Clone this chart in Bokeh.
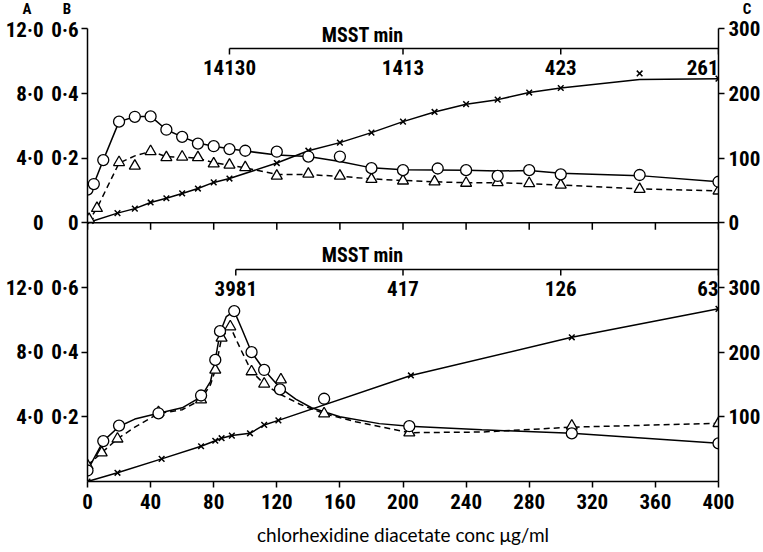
from bokeh.plotting import figure
from bokeh.models import Range1d, FixedTicker, Span, Label, LinearAxis, ColumnDataSource, Div
from bokeh.layouts import column
from bokeh.embed import file_html
from bokeh.resources import INLINE
from bokeh.core.properties import value

# ---------------- data ----------------
conc_ticks = [0, 40, 80, 120, 160, 200, 240, 280, 320, 360, 400]

header_labels = ["A", "B", "C"]
a_labels = ["0", "4·0", "8·0", "12·0"]
b_labels = ["0", "0·2", "0·4", "0·6"]
c_labels = ["0", "100", "200", "300"]

# upper panel: circles (A scale), triangles (B scale), crosses (C scale)
top_circle_x = [0, 4, 10, 20, 30, 40, 50, 60, 70, 80, 90, 100, 120, 140, 160, 180, 200, 222, 240, 260, 280, 300, 350, 400]
top_circle_a = [2.06, 2.40, 3.88, 6.26, 6.56, 6.58, 5.76, 5.32, 4.90, 4.74, 4.56, 4.46, 4.40, 4.10, 4.10, 3.38, 3.26, 3.36, 3.26, 2.90, 3.26, 3.00, 2.96, 2.54]
top_circle_curve_x = [0, 4, 10, 20, 30, 40, 50, 60, 70, 80, 90, 100, 120, 140, 160, 180, 200, 240, 260, 280, 300, 350, 400]
top_circle_curve_a = [2.06, 2.40, 3.88, 6.26, 6.56, 6.60, 5.76, 5.32, 4.94, 4.74, 4.58, 4.44, 4.20, 4.10, 3.80, 3.40, 3.28, 3.26, 3.20, 3.24, 3.06, 2.92, 2.54]

top_tri_x = [1, 6, 20, 30, 40, 50, 60, 70, 80, 90, 100, 120, 140, 160, 180, 200, 220, 240, 260, 280, 300, 350, 400]
top_tri_b = [0.011, 0.045, 0.187, 0.176, 0.221, 0.202, 0.204, 0.202, 0.183, 0.179, 0.171, 0.145, 0.151, 0.145, 0.135, 0.130, 0.127, 0.123, 0.125, 0.122, 0.117, 0.104, 0.099]
top_tri_curve_x = [0, 6, 20, 30, 40, 50, 60, 70, 80, 90, 100, 120, 140, 160, 180, 200, 220, 240, 260, 280, 300, 350, 400]
top_tri_curve_b = [0.0, 0.045, 0.185, 0.207, 0.221, 0.205, 0.203, 0.200, 0.186, 0.178, 0.170, 0.150, 0.149, 0.144, 0.136, 0.131, 0.127, 0.124, 0.124, 0.121, 0.117, 0.105, 0.099]

top_cross_x = [2, 19, 30, 40, 50, 60, 70, 80, 90, 120, 140, 160, 180, 200, 220, 240, 260, 280, 300, 350, 400]
top_cross_c = [3, 15, 22, 31.5, 38, 45.5, 53, 62.5, 68.5, 92.5, 111.5, 124, 139.5, 156.5, 171.5, 183.5, 190.5, 201.5, 208.5, 231, 223]
top_cross_curve_x = [0, 19, 30, 40, 50, 60, 70, 80, 90, 120, 140, 160, 180, 200, 220, 240, 260, 280, 300, 350, 400]
top_cross_curve_c = [0, 15, 22, 31.5, 38, 45.5, 53, 62.5, 68.5, 92.5, 111.5, 124, 139.5, 156.5, 171.5, 183.5, 190.5, 201.5, 208.5, 221.5, 223]

top_msst_x = [90, 200, 300, 400]
top_msst_labels = ["14130", "1413", "423", "261"]

# lower panel
bot_circle_x = [0, 10, 20, 45, 72, 81, 84, 93, 104, 112, 122, 150, 204, 307, 400]
bot_circle_a = [0.68, 2.50, 3.46, 4.22, 5.32, 7.52, 9.30, 10.54, 8.00, 6.90, 5.70, 5.12, 3.42, 2.98, 2.36]
bot_circle_curve_x = [0, 10, 20, 30, 45, 60, 72, 78, 81, 84, 88, 93, 98, 104, 112, 122, 132, 142, 160, 185, 204, 250, 307, 400]
bot_circle_curve_a = [0.68, 2.50, 3.40, 3.86, 4.22, 4.56, 5.24, 6.20, 7.52, 9.20, 10.20, 10.54, 9.40, 8.00, 6.90, 5.80, 5.10, 4.56, 4.00, 3.58, 3.42, 3.20, 2.98, 2.36]

bot_tri_x = [0, 9, 19, 45, 72, 81, 85, 90.5, 104, 112, 122.6, 150, 204, 307, 400]
bot_tri_b = [0.050, 0.089, 0.132, 0.214, 0.253, 0.345, 0.444, 0.479, 0.340, 0.302, 0.315, 0.210, 0.151, 0.172, 0.180]
bot_tri_curve_x = [0, 9, 19, 30, 45, 60, 72, 78, 81, 85, 90.5, 97, 104, 112, 122, 135, 150, 170, 204, 250, 307, 400]
bot_tri_curve_b = [0.050, 0.089, 0.132, 0.168, 0.210, 0.222, 0.253, 0.300, 0.345, 0.444, 0.479, 0.410, 0.340, 0.302, 0.270, 0.238, 0.210, 0.185, 0.151, 0.153, 0.168, 0.180]

bot_cross_x = [0, 19, 47, 72, 81, 85, 91.5, 103, 112, 121, 205, 307, 400]
bot_cross_c = [0, 13.5, 35, 54.5, 63, 67, 71, 74.5, 87.5, 94.5, 164, 223, 267]

bot_msst_x = [94, 200, 300, 400]
bot_msst_labels = ["3981", "417", "126", "63"]

# ---------------- layout helpers ----------------
UNIT_A, UNIT_B, UNIT_C = 4.0, 0.2, 100.0   # one plot unit per major tick step
TOP = 4.0                                  # upper panel baseline (plot units)
PPU = 194 / 3.0                            # pixels per plot unit
X0, Y0, XW = 87, 481, 635
HDR_H = 17


def ux(px):
    return (px - X0) * 400.0 / XW


def uy(py):
    return (Y0 - py) / PPU


def conv(vals, unit, base):
    return [v / unit + base for v in vals]


NUM_FONT = "'Roboto Condensed', 'DejaVu Sans Condensed', 'Liberation Sans Narrow', Roboto, sans-serif"
TXT_FONT = "Lato"

# header strip with the axis letters (HTML text)
spans = "".join(
    '<span style="position:absolute;left:%dpx;top:2px;width:20px;height:15px;text-align:center;">%s</span>' % (px - 10, t)
    for t, px in zip(header_labels, [27, 67, 747]))
hdr = Div(text='<div style="position:relative;width:763px;height:%dpx;font-family:%s;'
               'font-weight:bold;font-size:15px;line-height:15px;color:black;">%s</div>'
               % (HDR_H, NUM_FONT, spans),
          width=763, height=HDR_H, margin=0)

p = figure(width=763, height=552 - HDR_H, output_backend="svg", toolbar_location=None,
           x_range=Range1d(0, 400), y_range=Range1d(0, uy(20)),
           min_border_left=87, min_border_right=41, min_border_top=20 - HDR_H, min_border_bottom=71,
           margin=0)
p.outline_line_color = None
p.grid.visible = False
p.background_fill_color = "white"

tick_pos = [1, 2, 3, 4, 5, 6, 7]


def overrides(labels):
    d = {}
    for t in tick_pos:
        d[t] = labels[t] if t < TOP else labels[int(t - TOP)]
    return d


def style_axis(ax):
    ax.major_label_text_font = NUM_FONT
    ax.major_label_text_font_style = "bold"
    ax.major_label_text_font_size = "21px"
    ax.major_label_text_color = "black"
    ax.minor_tick_line_color = None
    ax.axis_line_width = 1.5
    ax.major_tick_line_width = 1.5
    ax.major_tick_out = 6
    ax.major_tick_in = 0


# B axis (inner left)
yb = p.yaxis[0]
yb.ticker = FixedTicker(ticks=tick_pos)
yb.major_label_overrides = overrides(b_labels)
yb.bounds = (0, TOP + 3)
style_axis(yb)
yb.major_label_standoff = 3

# A axis (outer left, labels only)
ya = LinearAxis(ticker=FixedTicker(ticks=tick_pos), major_label_overrides=overrides(a_labels))
style_axis(ya)
ya.axis_line_color = None
ya.major_tick_line_color = None
ya.major_tick_out = 0
ya.major_label_standoff = 5
p.add_layout(ya, "left")

# C axis (right)
yc = LinearAxis(ticker=FixedTicker(ticks=tick_pos), major_label_overrides=overrides(c_labels))
style_axis(yc)
yc.bounds = (0, TOP + 3)
yc.major_label_standoff = 4
p.add_layout(yc, "right")

# x axis
xa = p.xaxis[0]
xa.ticker = FixedTicker(ticks=conc_ticks)
style_axis(xa)
xa.major_label_standoff = 6
xa.axis_label = "chlorhexidine diacetate conc μg/ml"
xa.axis_label_text_font = TXT_FONT
xa.axis_label_text_font_style = "normal"
xa.axis_label_text_font_size = "19px"
xa.axis_label_text_color = "black"
xa.axis_label_standoff = 11

# upper panel baseline with ticks
p.add_layout(Span(location=TOP, dimension="width", line_color="black", line_width=1.5))
p.segment(x0=conc_ticks, y0=[TOP] * len(conc_ticks), x1=conc_ticks,
          y1=[TOP - 7 / PPU] * len(conc_ticks), line_color="black", line_width=1.5)


def msst(xs, labels, line_py, title_py):
    yl = uy(line_py)
    p.line(x=[xs[0], xs[-1]], y=[yl, yl], line_color="black", line_width=1.5)
    p.segment(x0=xs, y0=[yl] * len(xs), x1=xs, y1=[yl - 6 / PPU] * len(xs),
              line_color="black", line_width=1.5)
    aligns = ["center"] * (len(xs) - 1) + ["right"]
    src = ColumnDataSource(dict(x=xs, y=[uy(line_py + 11)] * len(xs), t=labels, a=aligns))
    p.text(x="x", y="y", text="t", text_align="a", text_baseline="top", source=src,
           text_font=value(NUM_FONT), text_font_style="bold", text_font_size="21px",
           text_color="black")
    p.add_layout(Label(x=ux(364), y=uy(title_py), text="MSST min", text_align="center",
                       text_baseline="middle", text_font=NUM_FONT, text_font_style="bold",
                       text_font_size="20px", text_color="black"))


msst(top_msst_x, top_msst_labels, 48, 34)
msst(bot_msst_x, bot_msst_labels, 269, 254)

LW = 1.5
DASH = "6 4"


def panel(base, cx, ca, ccx, cca, tx, tb, tcx, tcb, xx, xc, xcx, xcc):
    p.line(x=ccx, y=conv(cca, UNIT_A, base), line_color="black", line_width=LW)
    p.line(x=tcx, y=conv(tcb, UNIT_B, base), line_color="black", line_width=LW, line_dash=DASH)
    p.line(x=xcx, y=conv(xcc, UNIT_C, base), line_color="black", line_width=LW)
    p.scatter(x=xx, y=conv(xc, UNIT_C, base), marker="x", size=8, line_color="black", line_width=1.5)
    p.scatter(x=tx, y=conv(tb, UNIT_B, base), marker="triangle", size=11, fill_color="white",
              line_color="black", line_width=1.3)
    p.scatter(x=cx, y=conv(ca, UNIT_A, base), marker="circle", size=11, fill_color="white",
              line_color="black", line_width=1.3)


panel(TOP, top_circle_x, top_circle_a, top_circle_curve_x, top_circle_curve_a,
      top_tri_x, top_tri_b, top_tri_curve_x, top_tri_curve_b,
      top_cross_x, top_cross_c, top_cross_curve_x, top_cross_curve_c)
panel(0, bot_circle_x, bot_circle_a, bot_circle_curve_x, bot_circle_curve_a,
      bot_tri_x, bot_tri_b, bot_tri_curve_x, bot_tri_curve_b,
      bot_cross_x, bot_cross_c, bot_cross_x, bot_cross_c)

layout = column(hdr, p, spacing=0)
open("out.html", "w").write(file_html(layout, INLINE))
